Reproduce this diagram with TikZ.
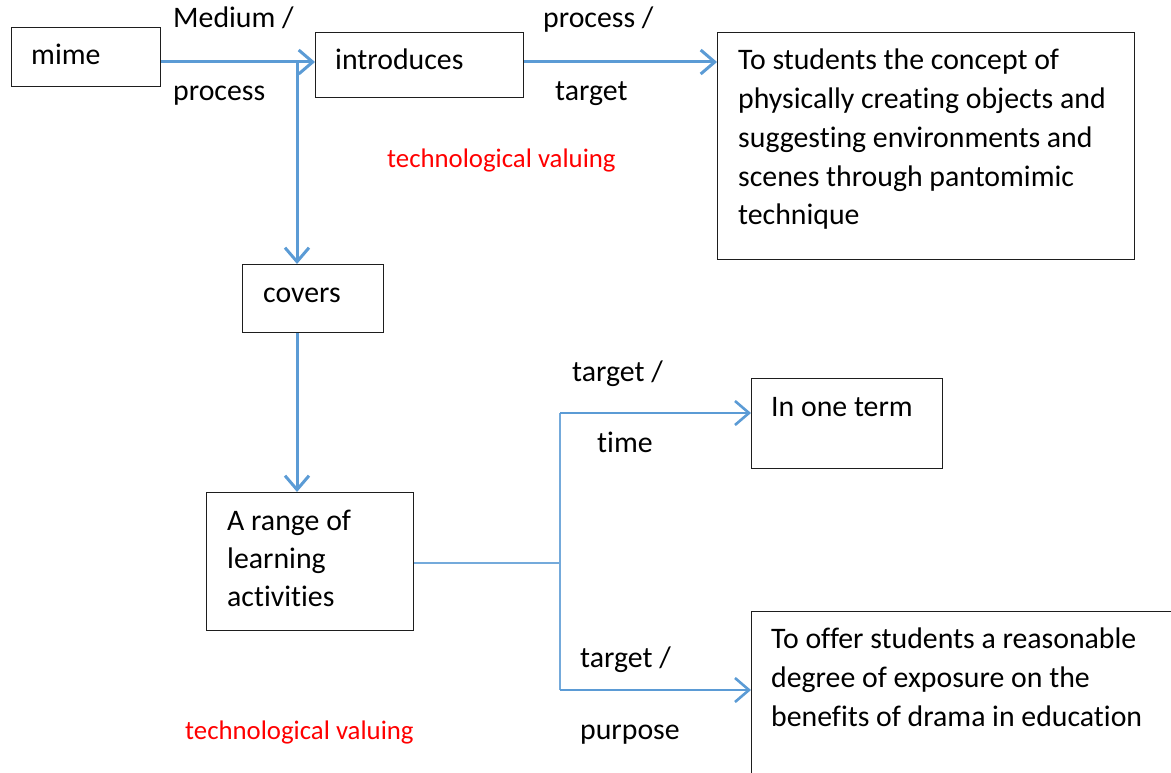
\documentclass[tikz,border=0pt]{standalone}
\usepackage{fontspec}
\setmainfont{Carlito}[Ligatures=NoCommon]
\usetikzlibrary{arrows.meta}
\definecolor{lineblue}{RGB}{91,155,213}
\definecolor{boxline}{RGB}{30,30,30}
\tikzset{
  box/.style={draw=boxline, line width=1.3pt, anchor=north west, inner sep=0pt},
  txt/.style={anchor=base west, inner sep=0pt, font=\fontsize{29.8}{39}\selectfont, text=black},
  redtxt/.style={anchor=base west, inner sep=0pt, font=\fontsize{26.8}{32}\selectfont, text=red},
  conn/.style={draw=lineblue, line width=3pt, -{Straight Barb[length=14pt,width=24pt,line width=3pt]}},
  thinconn/.style={draw=lineblue, line width=2.2pt, -{Straight Barb[length=14pt,width=24pt,line width=2.6pt]}},
  thinline/.style={draw=lineblue!85, line width=1.2pt}
}
\begin{document}
\begin{tikzpicture}[x=1pt,y=1pt]
\useasboundingbox (0,0) rectangle (1171,-773);
% boxes
\node[box, minimum width=149pt, minimum height=59pt] (mime) at (11,-27) {};
\node[box, minimum width=208pt, minimum height=65pt] (intro) at (315,-32) {};
\node[box, minimum width=417pt, minimum height=227pt] (concept) at (717,-32) {};
\node[box, minimum width=141pt, minimum height=68pt] (covers) at (242,-264) {};
\node[box, minimum width=207pt, minimum height=138pt] (arange) at (206,-492) {};
\node[box, minimum width=191pt, minimum height=90pt] (term) at (751,-378) {};
\node[box, minimum width=440pt, minimum height=185pt] (purp) at (751,-611) {};
% box texts
\node[txt] (tmime) at (31,-65) {mime};
\node[txt] (tintro) at (335,-70) {introduces};
\node[txt] (tc1) at (738,-70) {To students the concept of};
\node[txt] (tc2) at (738,-109) {physically creating objects and};
\node[txt] (tc3) at (738,-148) {suggesting environments and};
\node[txt] (tc4) at (738,-187) {scenes through pantomimic};
\node[txt] (tc5) at (738,-225) {technique};
\node[txt] (tcov) at (263,-302) {covers};
\node[txt] (tr1) at (227,-530) {A range of};
\node[txt] (tr2) at (227,-568) {learning};
\node[txt] (tr3) at (227,-606) {activities};
\node[txt] (tterm) at (771,-416) {In one term};
\node[txt] (tp1) at (771,-648) {To offer students a reasonable};
\node[txt] (tp2) at (771,-687) {degree of exposure on the};
\node[txt] (tp3) at (771,-726) {benefits of drama in education};
% connector labels
\node[txt] (l1) at (173,-28) {Medium /};
\node[txt] (l2) at (173,-101) {process};
\node[txt] (l3) at (543,-28) {process /};
\node[txt] (l4) at (555,-101) {target};
\node[txt] (l5) at (572,-381) {target /};
\node[txt] (l6) at (597,-452) {time};
\node[txt] (l7) at (580,-667) {target /};
\node[txt] (l8) at (580,-739) {purpose};
\node[redtxt] (r1) at (387,-168) {technological valuing};
\node[redtxt] (r2) at (185,-739) {technological valuing};
% connectors
\coordinate (j1) at (297,-62);
\draw[conn] (mime.east |- j1) -- (intro.west |- j1);
\draw[conn] (intro.east |- j1) -- (concept.west |- j1);
\draw[conn] (j1) -- (j1 |- covers.north);
\draw[conn] (j1 |- covers.south) -- (j1 |- arange.north);
\coordinate (j2) at (560,-563);
\coordinate (t1) at (560,-413);
\coordinate (t2) at (560,-690);
\draw[thinline] (arange.east |- j2) -- (j2);
\draw[thinline] (t1) -- (t2);
\draw[thinconn] (t1) -- (term.west |- t1);
\draw[thinconn] (t2) -- (purp.west |- t2);
\end{tikzpicture}
\end{document}
